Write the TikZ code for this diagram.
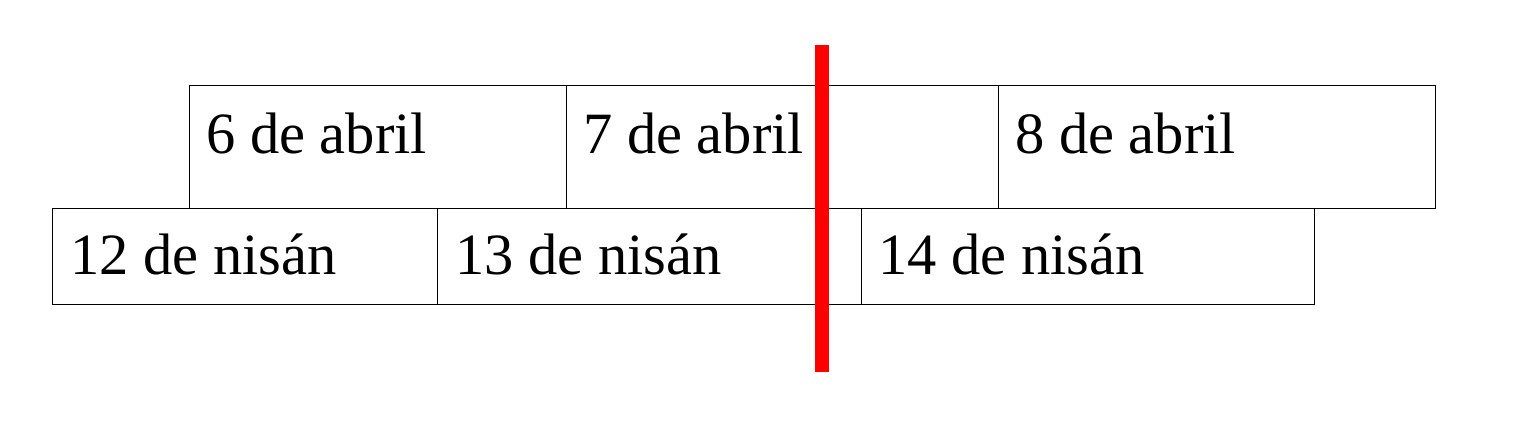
\documentclass[tikz,border=0pt]{standalone}
\usepackage{fontspec}
\setmainfont{Liberation Serif}
\usetikzlibrary{positioning}

\tikzset{
  cell/.style={draw, line width=1pt, rectangle, anchor=north west, inner sep=0pt},
  daytext/.style={anchor=base west, inner sep=0pt, font=\fontsize{58.5}{70}\selectfont},
  cutline/.style={draw=red, line width=14.5pt}
}

\begin{document}
\begin{tikzpicture}[x=1pt,y=1pt]
\useasboundingbox (0,0) rectangle (1537,430);
% fila de abril
\node[cell, minimum width=377pt, minimum height=123pt] (abrilA) at (189,345) {};
\node[daytext] (tabrilA) at ([shift={(17,-69)}]abrilA.north west) {6 de abril};
\node[cell, minimum width=432pt, minimum height=123pt] (abrilB) at (566,345) {};
\node[daytext] (tabrilB) at ([shift={(17,-69)}]abrilB.north west) {7 de abril};
\node[cell, minimum width=437pt, minimum height=123pt] (abrilC) at (998,345) {};
\node[daytext] (tabrilC) at ([shift={(17,-69)}]abrilC.north west) {8 de abril};
% fila de nisan
\node[cell, minimum width=385pt, minimum height=96pt] (nisanA) at (52,222) {};
\node[daytext] (tnisanA) at ([shift={(18,-67)}]nisanA.north west) {12 de nisán};
\node[cell, minimum width=424pt, minimum height=96pt] (nisanB) at (437,222) {};
\node[daytext] (tnisanB) at ([shift={(18,-67)}]nisanB.north west) {13 de nisán};
\node[cell, minimum width=453pt, minimum height=96pt] (nisanC) at (861,222) {};
\node[daytext] (tnisanC) at ([shift={(17,-67)}]nisanC.north west) {14 de nisán};
% linea roja
\coordinate (cutTop) at (822,385);
\coordinate (cutBot) at (822,58);
\draw[cutline] (cutTop) -- (cutBot);
\end{tikzpicture}
\end{document}
